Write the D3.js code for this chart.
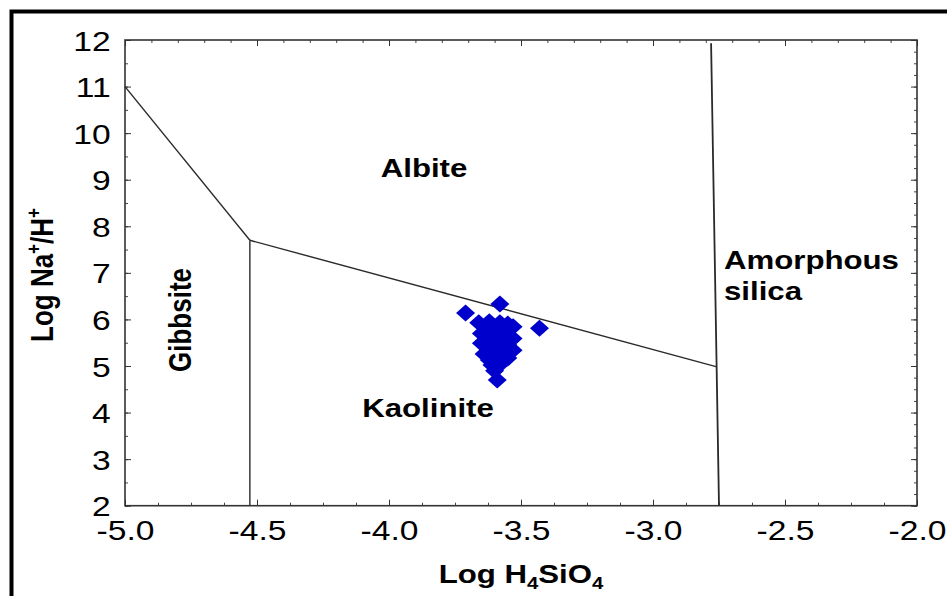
<!DOCTYPE html>
<html>
<meta charset="utf-8">
<head>
<script src="https://d3js.org/d3.v7.min.js"></script>
<style>
  body { margin: 0; background: #fff; }
  svg { display: block; font-family: "Liberation Sans", Arial, sans-serif; }
</style>
</head>
<body>
<script>
// stability field boundaries (log H4SiO4, log Na+/H+)
var albiteGibbsite    = [[-5.0, 11.0], [-4.527, 7.70]];
var gibbsiteKaolinite = [[-4.527, 7.70], [-4.527, 2.0]];
var albiteKaolinite   = [[-4.527, 7.70], [-2.758, 4.98]];
var silicaLine        = [[-2.78, 11.93], [-2.75, 2.0]];

// samples
var sampleX = [-3.71, -3.58, -3.43, -3.66, -3.62, -3.58, -3.55, -3.53, -3.53, -3.53,
               -3.55, -3.65, -3.65, -3.64, -3.62, -3.61, -3.58, -3.60, -3.57, -3.60,
               -3.58, -3.56, -3.60, -3.59, -3.61, -3.63, -3.59, -3.56, -3.62, -3.57,
               -3.63, -3.55];
var sampleY = [6.14, 6.33, 5.81, 5.93, 5.95, 5.93, 5.90, 5.84, 5.59, 5.34,
               5.17, 5.70, 5.49, 5.26, 5.13, 5.75, 5.65, 5.45, 5.40, 5.30,
               5.20, 5.55, 4.90, 4.70, 5.02, 5.60, 5.80, 5.72, 5.38, 5.08,
               5.85, 5.45];

var xMajor = [-5.0, -4.5, -4.0, -3.5, -3.0, -2.5, -2.0];
var yMajor = [2, 3, 4, 5, 6, 7, 8, 9, 10, 11, 12];

var width = 947, height = 596;
var pLeft = 125, pRight = 917, pTop = 40, pBottom = 505.7;
var sx = 1.2; // the picture is a bit wide

var svg = d3.select("body").append("svg")
  .attr("width", width).attr("height", height);

var x = d3.scaleLinear().domain([-5, -2]).range([pLeft, pRight]);
var y = d3.scaleLinear().domain([2, 12]).range([pBottom, pTop]);

// outer frame
svg.append("rect")
  .attr("x", 11.5).attr("y", 11.5)
  .attr("width", 1000).attr("height", 1000)
  .attr("fill", "none").attr("stroke", "#000").attr("stroke-width", 4);

// minor ticks
function minor(axis, vals, tx, ty) {
  var g = svg.append("g").attr("transform", "translate(" + tx + "," + ty + ")")
    .call(axis.tickValues(vals).tickSize(-3).tickFormat(""));
  g.select(".domain").remove();
  g.selectAll("line").attr("stroke", "#444");
}
minor(d3.axisBottom(x), d3.range(-5, -1.99, 0.125), 0, pBottom);
minor(d3.axisTop(x), d3.range(-5, -1.99, 0.1), 0, pTop);
minor(d3.axisLeft(y), d3.range(2, 12.01, 0.5), pLeft, 0);
minor(d3.axisRight(y), d3.range(2, 12.01, 0.25), pRight, 0);

// major ticks
function major(axis, vals, tx, ty) {
  var g = svg.append("g").attr("transform", "translate(" + tx + "," + ty + ")")
    .call(axis.tickValues(vals).tickSize(-6).tickFormat(""));
  g.select(".domain").remove();
  g.selectAll("line").attr("stroke", "#333");
}
major(d3.axisTop(x), xMajor, 0, pTop);
major(d3.axisRight(y), yMajor, pRight, 0);

var gx = svg.append("g").attr("transform", "translate(0," + pBottom + ")")
  .call(d3.axisBottom(x).tickValues(xMajor).tickSize(-6).tickPadding(14)
    .tickFormat(function (d) { return d.toFixed(1); }));
var gy = svg.append("g").attr("transform", "translate(" + pLeft + ",0)")
  .call(d3.axisLeft(y).tickValues(yMajor).tickSize(-6).tickPadding(12));
[gx, gy].forEach(function (g) {
  g.select(".domain").remove();
  g.selectAll("line").attr("stroke", "#333");
  g.selectAll("text")
    .attr("font-size", 28)
    .attr("fill", "#000")
    .attr("font-family", "Liberation Sans, Arial, sans-serif");
});
gx.selectAll("text").attr("transform", "scale(" + sx + ",1)");
gy.selectAll("text").attr("transform", "scale(" + sx + ",1)").attr("dy", "0.36em");

// plot frame
svg.append("rect")
  .attr("x", pLeft).attr("y", pTop)
  .attr("width", pRight - pLeft).attr("height", pBottom - pTop)
  .attr("fill", "none").attr("stroke", "#333").attr("stroke-width", 1.6);

// boundaries
var line = d3.line().x(function (d) { return x(d[0]); }).y(function (d) { return y(d[1]); });
[albiteGibbsite, gibbsiteKaolinite, albiteKaolinite].forEach(function (b) {
  svg.append("path").attr("d", line(b))
    .attr("fill", "none").attr("stroke", "#2a2a2a").attr("stroke-width", 1.4);
});
svg.append("path").attr("d", line(silicaLine))
  .attr("fill", "none").attr("stroke", "#2a2a2a").attr("stroke-width", 1.8);

// samples
var diamond = "M0,-8.5L9.5,0L0,8.5L-9.5,0Z";
svg.append("g").selectAll("path")
  .data(sampleX.map(function (v, i) { return [v, sampleY[i]]; }))
  .join("path")
  .attr("d", diamond)
  .attr("transform", function (d) { return "translate(" + x(d[0]) + "," + y(d[1]) + ")"; })
  .attr("fill", "#0000cd");

// field labels
function label(txt, px, py, anchor) {
  return svg.append("text")
    .attr("transform", "translate(" + px + "," + py + ") scale(" + sx + ",1)")
    .attr("text-anchor", anchor || "middle")
    .attr("font-size", 26).attr("font-weight", "bold")
    .text(txt);
}
label("Albite", 424, 177);
label("Kaolinite", 428, 417);
label("Amorphous", 724, 269, "start");
label("silica", 724, 300, "start");
svg.append("text")
  .attr("transform", "translate(191,320) scale(" + sx + ",1) rotate(-90)")
  .attr("text-anchor", "middle")
  .attr("font-size", 26).attr("font-weight", "bold")
  .text("Gibbsite");

// axis titles
var xt = svg.append("text")
  .attr("transform", "translate(521,583) scale(" + sx + ",1)")
  .attr("text-anchor", "middle")
  .attr("font-size", 26).attr("font-weight", "bold");
xt.append("tspan").text("Log H");
xt.append("tspan").attr("font-size", 17).attr("dy", 6).text("4");
xt.append("tspan").attr("dy", -6).text("SiO");
xt.append("tspan").attr("font-size", 17).attr("dy", 6).text("4");

var yt = svg.append("text")
  .attr("transform", "translate(53,275) scale(" + sx + ",1) rotate(-90)")
  .attr("text-anchor", "middle")
  .attr("font-size", 26).attr("font-weight", "bold");
yt.append("tspan").text("Log Na");
yt.append("tspan").attr("font-size", 17).attr("dy", -10).text("+");
yt.append("tspan").attr("dy", 10).text("/H");
yt.append("tspan").attr("font-size", 17).attr("dy", -10).text("+");
</script>
</body>
</html>
